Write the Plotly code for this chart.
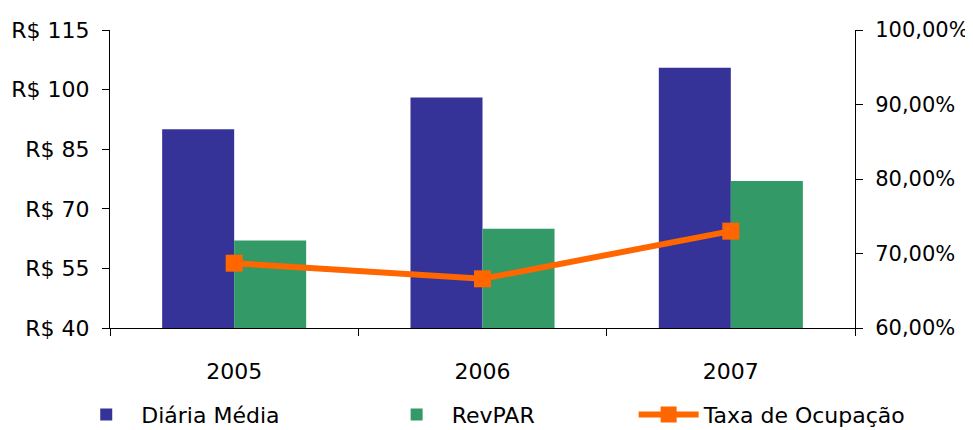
import plotly.graph_objects as go

anos = ["2005", "2006", "2007"]
diaria_media = [90, 98, 105.5]
revpar = [62, 65, 77]
taxa_ocupacao = [68.7, 66.6, 73.0]

y1_vals = [40, 55, 70, 85, 100, 115]
y1_text = ["R$ 40", "R$ 55", "R$ 70", "R$ 85", "R$ 100", "R$ 115"]
y2_vals = [60, 70, 80, 90, 100]
y2_text = ["60,00%", "70,00%", "80,00%", "90,00%", "100,00%"]

FONT = "DejaVu Sans"

fig = go.Figure()
fig.add_trace(go.Bar(name="Diária Média", x=anos, y=diaria_media, legend="legend",
                     marker=dict(color="#363398", line=dict(width=0))))
fig.add_trace(go.Bar(name="RevPAR", x=anos, y=revpar, legend="legend2",
                     marker=dict(color="#339966", line=dict(width=0))))
fig.add_trace(go.Scatter(name="Taxa de Ocupação", x=anos, y=taxa_ocupacao, yaxis="y2",
                         legend="legend3", mode="lines+markers",
                         line=dict(color="#FF6600", width=6),
                         marker=dict(symbol="square", size=17, color="#FF6600")))

leg_common = dict(orientation="h", xref="container", yref="container", y=0.054,
                  yanchor="middle", xanchor="left", font=dict(size=22), itemwidth=60,
                  bgcolor="rgba(0,0,0,0)")

fig.update_layout(
    width=973, height=430,
    margin=dict(l=102, r=126, t=22, b=110, autoexpand=False),
    paper_bgcolor="white", plot_bgcolor="white",
    font=dict(family=FONT, size=22, color="black"),
    barmode="group", bargap=0.42, bargroupgap=0,
    showlegend=True,
    legend=dict(x=0.065, **leg_common),
    legend2=dict(x=0.384, **leg_common),
    legend3=dict(x=0.643, **leg_common),
    xaxis=dict(type="category", range=[-0.5, 2.5], showline=True, linecolor="black",
               linewidth=1, ticks="outside", ticklen=7, tickcolor="black",
               tickson="boundaries", tickfont=dict(size=22), showgrid=False,
               ticklabelstandoff=24),
    yaxis=dict(range=[40, 115], tickvals=y1_vals, ticktext=y1_text, showline=True,
               linecolor="black", linewidth=1, ticks="outside", ticklen=7,
               tickcolor="black", showgrid=False, zeroline=False, ticklabelstandoff=8),
    yaxis2=dict(range=[60, 100], tickvals=y2_vals, ticktext=y2_text, overlaying="y",
                side="right", showline=True, linecolor="black", linewidth=1,
                ticks="outside", ticklen=7, tickcolor="black", showgrid=False,
                zeroline=False, ticklabelstandoff=8, tickfont=dict(size=21)),
)

fig.write_html("out.html")
